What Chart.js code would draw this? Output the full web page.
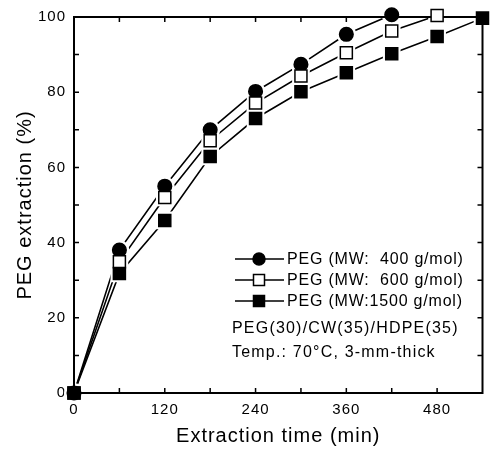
<!DOCTYPE html>
<html>
<head>
<meta charset="utf-8">
<script src="https://cdn.jsdelivr.net/npm/chart.js@4/dist/chart.umd.min.js"></script>
<style>
  html, body { margin: 0; padding: 0; background: #fff; }
  #wrap { width: 495px; height: 450px; position: relative; }
</style>
</head>
<body>
<div id="wrap"><canvas id="c" width="495" height="450"></canvas></div>
<script>
// ---- data ----
const times = [0, 60, 120, 180, 240, 300, 360, 420, 480, 540];
const peg400 = [0, 38, 55, 70, 80.2, 87.4, 95.4, 100.6];
const peg600 = [0, 34.9, 52, 67.1, 77.1, 84.3, 90.5, 96.3, 100.4];
const peg1500 = [0, 31.8, 45.9, 62.9, 73, 80.1, 85.2, 90.2, 94.8, 99.7];
const seriesNames = ['PEG (MW:  400 g/mol)', 'PEG (MW:  600 g/mol)', 'PEG (MW:1500 g/mol)'];
const xTickLabels = [0, 120, 240, 360, 480];
const yTickLabels = [0, 20, 40, 60, 80, 100];
const noteLines = ['PEG(30)/CW(35)/HDPE(35)', 'Temp.: 70\u00B0C, 3-mm-thick'];

const FONT = '"Liberation Sans", Arial, Helvetica, sans-serif';

function pts(vals) { return vals.map((v, i) => ({ x: times[i], y: v })); }

const markerStyles = [
  { style: 'circle', radius: 6.8, fill: '#000', halo: 10 },
  { style: 'rect', radius: 8.5, fill: '#fff', halo: 12.5 },
  { style: 'rect', radius: 8.5, fill: '#000', halo: 12.5 }
];
const allSeries = [peg400, peg600, peg1500];

const datasets = [];
allSeries.forEach((vals, i) => {
  datasets.push({ label: 'line' + i, data: pts(vals), showLine: true, borderColor: '#000',
    borderWidth: 1.6, pointRadius: 0, fill: false, order: 3, clip: 12, kind: 'line' });
});
allSeries.forEach((vals, i) => {
  const m = markerStyles[i];
  datasets.push({ label: 'halo' + i, data: pts(vals), showLine: false, pointStyle: m.style,
    pointRadius: m.halo, pointBackgroundColor: '#fff', pointBorderColor: '#fff', pointBorderWidth: 0,
    order: 2, clip: 14, kind: 'halo' });
});
allSeries.forEach((vals, i) => {
  const m = markerStyles[i];
  datasets.push({ label: seriesNames[i], data: pts(vals), showLine: false, pointStyle: m.style,
    pointRadius: m.radius, pointBackgroundColor: m.fill, pointBorderColor: '#000', pointBorderWidth: 1.5,
    order: 1.3 - i * 0.1, clip: 14, kind: 'marker' });
});

let frameDrawn = false;
function drawFrame(chart) {
  const ctx = chart.ctx, a = chart.chartArea, xs = chart.scales.x, ys = chart.scales.y;
  ctx.save();
  ctx.strokeStyle = '#000';
  ctx.lineWidth = 1.5;
  const tl = 5;
  ctx.beginPath();
  xs.ticks.forEach(t => {
    const px = xs.getPixelForValue(t.value);
    if (t.value <= xs.min || t.value >= xs.max) return;
    ctx.moveTo(px, a.bottom); ctx.lineTo(px, a.bottom - tl);
    ctx.moveTo(px, a.top); ctx.lineTo(px, a.top + tl);
  });
  ys.ticks.forEach(t => {
    const py = ys.getPixelForValue(t.value);
    if (t.value <= ys.min || t.value >= ys.max) return;
    ctx.moveTo(a.left, py); ctx.lineTo(a.left + tl, py);
    ctx.moveTo(a.right, py); ctx.lineTo(a.right - tl, py);
  });
  ctx.stroke();
  ctx.lineWidth = 2;
  ctx.strokeRect(a.left, a.top, a.right - a.left, a.bottom - a.top);
  ctx.restore();
}

const framePlugin = {
  id: 'frame',
  beforeDraw(chart) { chart.ctx.letterSpacing = '1px'; },
  beforeDatasetsDraw() { frameDrawn = false; },
  beforeDatasetDraw(chart, args) {
    const ds = chart.data.datasets[args.index];
    if (ds.kind === 'marker' && !frameDrawn) { drawFrame(chart); frameDrawn = true; }
  },
  afterDraw(chart) {
    const ctx = chart.ctx;
    ctx.save();
    const rows = [259, 280, 301];
    const lx0 = 235, lx1 = 284, mx = 259, tx = 287;
    ctx.font = '16px ' + FONT;
    ctx.letterSpacing = '0.8px';
    ctx.textBaseline = 'middle';
    ctx.textAlign = 'left';
    rows.forEach((y, i) => {
      ctx.strokeStyle = '#000'; ctx.lineWidth = 1.6;
      ctx.beginPath(); ctx.moveTo(lx0, y); ctx.lineTo(lx1, y); ctx.stroke();
      const m = markerStyles[i];
      ctx.fillStyle = m.fill; ctx.lineWidth = 1.5;
      ctx.beginPath();
      if (m.style === 'circle') ctx.arc(mx, y, 6, 0, Math.PI * 2);
      else ctx.rect(mx - 5.5, y - 5.5, 11, 11);
      ctx.fill(); ctx.stroke();
      ctx.fillStyle = '#000';
      ctx.fillText(seriesNames[i], tx, y + 1);
    });
    ctx.letterSpacing = '1.2px';
    ctx.fillText(noteLines[0], 232, 329);
    ctx.fillText(noteLines[1], 232, 353);
    ctx.restore();
  }
};

new Chart(document.getElementById('c'), {
  type: 'scatter',
  data: { datasets },
  options: {
    responsive: false,
    animation: false,
    events: [],
    layout: { padding: { top: 12, right: 3, left: 0, bottom: 0 } },
    plugins: { legend: { display: false }, tooltip: { enabled: false } },
    scales: {
      x: {
        type: 'linear', min: 0, max: 540,
        afterFit(s) { s.height = 57; },
        grid: { display: false, drawTicks: false },
        border: { display: false },
        ticks: {
          stepSize: 60, padding: 8, color: '#000', maxRotation: 0, autoSkip: false,
          font: { size: 15, family: FONT },
          callback: v => xTickLabels.includes(v) ? String(v) : ''
        },
        title: { display: true, text: 'Extraction time (min)', color: '#000',
          font: { size: 20, family: FONT }, padding: { top: 0, bottom: 2 } }
      },
      y: {
        type: 'linear', min: 0, max: 100,
        afterFit(s) { s.width = 74; },
        grid: { display: false, drawTicks: false },
        border: { display: false },
        ticks: {
          stepSize: 10, padding: 8, color: '#000', autoSkip: false,
          font: { size: 15, family: FONT },
          callback: v => yTickLabels.includes(v) ? String(v) : ''
        },
        title: { display: true, text: 'PEG extraction (%)', color: '#000',
          font: { size: 20, family: FONT }, padding: { top: 13, bottom: 0 } }
      }
    }
  },
  plugins: [framePlugin]
});
</script>
</body>
</html>
